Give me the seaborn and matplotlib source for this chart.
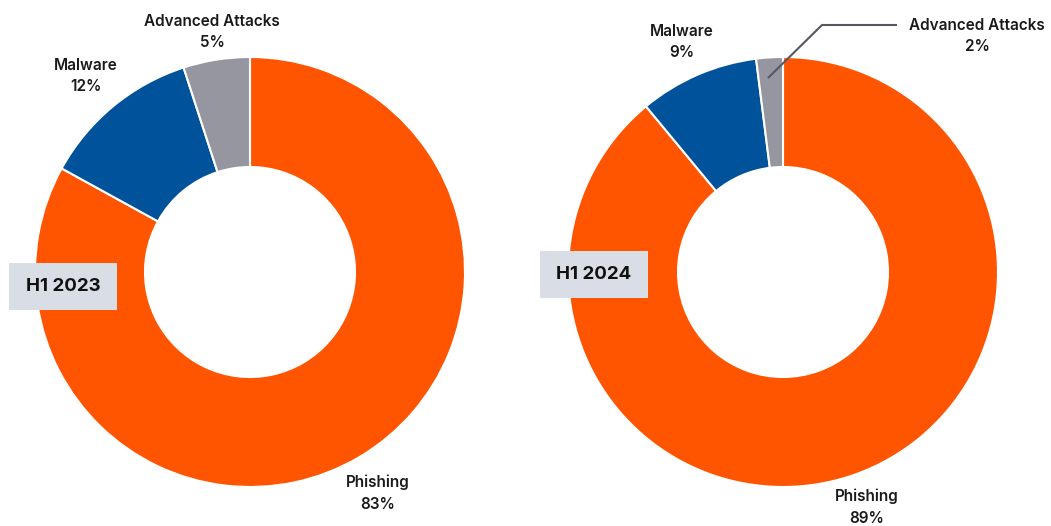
import matplotlib
matplotlib.use("Agg")
import matplotlib.pyplot as plt
import seaborn as sns
from matplotlib.patches import FancyBboxPatch

sns.set_theme(style="white")
plt.rcParams['font.family'] = ['Inter', 'DejaVu Sans']

categories = ["Phishing", "Malware", "Advanced Attacks"]
values_2023 = [83, 12, 5]
values_2024 = [89, 9, 2]
period_labels = ["H1 2023", "H1 2024"]
colors = ["#FF5500", "#00529B", "#95969F"]

W, H = 1051, 526
fig = plt.figure(figsize=(W / 100, H / 100), dpi=100)
ax = fig.add_axes([0, 0, 1, 1])
ax.set_xlim(0, W)
ax.set_ylim(0, H)
ax.set_aspect("equal")
ax.axis("off")

def py(y):
    return H - y

R = 215
width = 110 / 215 * R

for vals, cx in [(values_2023, 250), (values_2024, 783)]:
    ax.pie(vals, colors=colors, startangle=90, counterclock=False,
           center=(cx, py(272)), radius=R, frame=True,
           wedgeprops=dict(width=width, edgecolor="white", linewidth=1.5))

ax.set_xlim(0, W)
ax.set_ylim(0, H)
ax.axis("off")

lab_kw = dict(ha="center", va="center", fontsize=11, fontweight="semibold", color="#1a1a1a", linespacing=1.55)

# left donut labels
ax.text(212, py(32), f"{categories[2]}\n{values_2023[2]}%", **lab_kw)
ax.text(86, py(76), f"{categories[1]}\n{values_2023[1]}%", **lab_kw)
ax.text(378, py(493), f"{categories[0]}\n{values_2023[0]}%", **lab_kw)

# right donut labels
ax.text(977, py(36), f"{categories[2]}\n{values_2024[2]}%", **lab_kw)
ax.text(682, py(42), f"{categories[1]}\n{values_2024[1]}%", **lab_kw)
ax.text(867, py(507), f"{categories[0]}\n{values_2024[0]}%", **lab_kw)

# leader line for small slice
ax.plot([768, 822, 897], [py(78), py(25), py(25)], color="#555860", lw=1.5, solid_capstyle="butt")

# period boxes
for (x0, y0, x1, y1), lab in [((9, 263, 117, 310), period_labels[0]), ((540, 251, 648, 298), period_labels[1])]:
    ax.add_patch(plt.Rectangle((x0, py(y1)), x1 - x0, y1 - y0, facecolor="#D9DDE6", edgecolor="none", zorder=5))
    ax.text((x0 + x1) / 2, py((y0 + y1) / 2), lab, ha="center", va="center",
            fontsize=13.5, fontweight="bold", color="#111111", zorder=6)

fig.savefig("out.png", dpi=100)
